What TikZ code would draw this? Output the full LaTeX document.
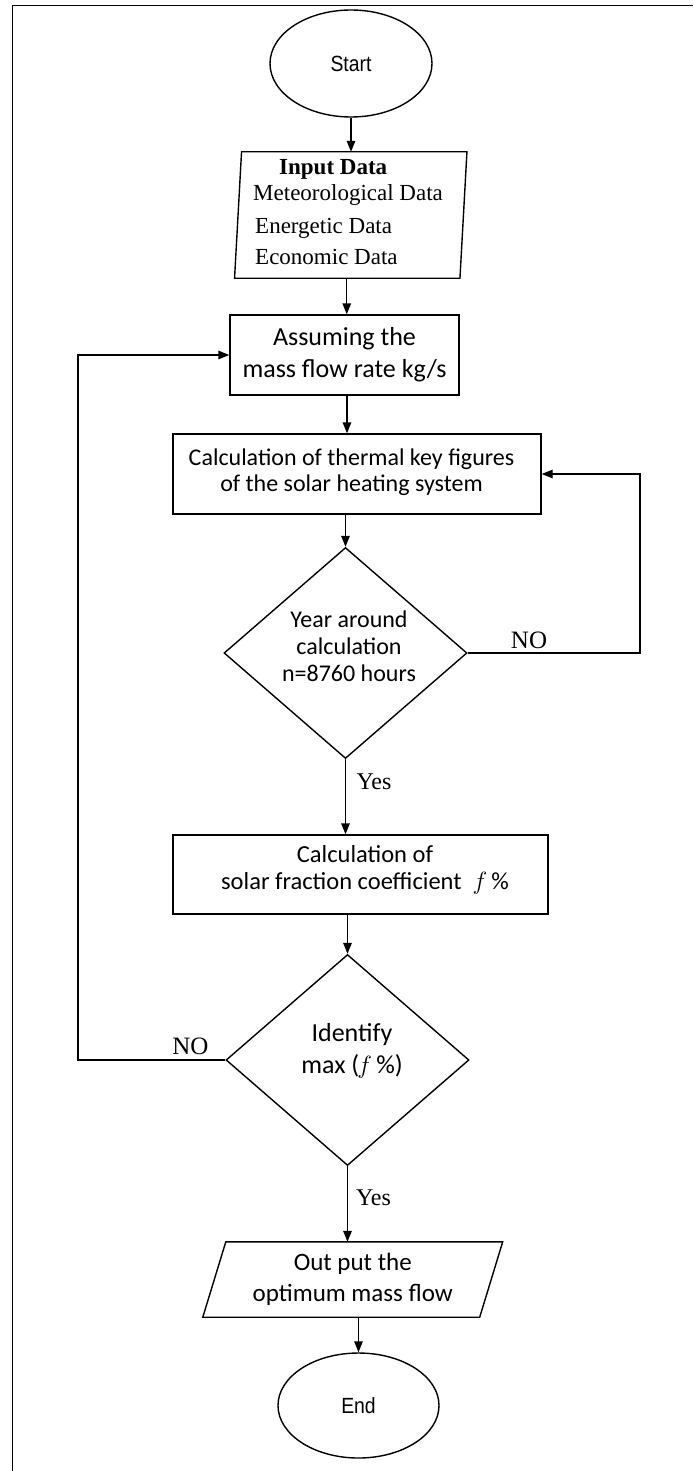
\documentclass[tikz,border=0pt]{standalone}
\usepackage{fontspec}
\setmainfont{Liberation Serif}
\newfontfamily\calfont{Carlito}
\newfontfamily\arialfont[FakeStretch=0.88]{Liberation Sans}
\usetikzlibrary{shapes.geometric,arrows.meta,calc}
\begin{document}
\begin{tikzpicture}[x=1pt,y=-1pt,
  ln/.style={line width=1.4pt},
  arr/.style={line width=1.4pt,-{Triangle[length=11pt,width=8.5pt]}},
  termnode/.style={ellipse,draw,ln,inner sep=0,font=\arialfont\fontsize{22}{26}\selectfont},
  procbox/.style={draw,ln,inner sep=0,align=center},
  decnode/.style={diamond,draw,ln,inner sep=0,minimum width=243pt,minimum height=211pt},
  ghost/.style={inner sep=0},
  serlab/.style={inner sep=0,font=\fontsize{24}{28}\selectfont},
  inline/.style={anchor=base west,inner sep=0,font=\fontsize{23}{27}\selectfont}
]
\useasboundingbox (0,0) rectangle (693,1471);
% frame
\draw[line width=1.4pt] (693,5.7) -- (12.7,5.7) -- (12.7,1471);

% start
\node[termnode,minimum width=162pt,minimum height=107pt] (start) at (351,63.5) {Start};

% input data
\node[ghost,minimum width=225pt,minimum height=126pt] (inp) at (350.75,215) {};
\draw[ln] ($(inp.north west)+(3.5,0)$) -- ($(inp.north east)+(3.5,0)$)
  -- ($(inp.south east)+(-3.5,0)$) -- ($(inp.south west)+(-3.5,0)$) -- cycle;
\node[inline,font=\bfseries\fontsize{23}{27}\selectfont] (inpt) at (279,175) {Input Data};
\node[inline] (met) at (253,201) {Meteorological Data};
\node[inline] (ene) at (255,234) {Energetic Data};
\node[inline] (eco) at (255,264) {Economic Data};

% assuming
\node[procbox,minimum width=229pt,minimum height=80pt,font=\calfont\fontsize{26}{32}\selectfont] (asm) at (344.5,355) {Assuming the\\mass flow rate kg/s};

% calc thermal
\node[procbox,minimum width=368pt,minimum height=80pt] (calc) at (357,474) {};
\node[ghost,align=center,font=\calfont\fontsize{24}{26}\selectfont] (calct) at (351.5,472) {Calculation of thermal key figures\\of the solar heating system};

% decision 1
\node[decnode] (d1) at (345.5,653) {};
\node[ghost,align=center,font=\calfont\fontsize{24}{27}\selectfont] (d1t) at (349,646.5) {Year around\\calculation\\n=8760 hours};

% solar fraction
\node[procbox,minimum width=375pt,minimum height=79pt] (frac) at (360.5,874.5) {};
\node[ghost,align=center,font=\calfont\fontsize{24.5}{27}\selectfont] (fract) at (365,869.5) {Calculation of\\solar fraction coefficient\hspace{0.45em}$f$\,\%};

% decision 2
\node[decnode] (d2) at (347.5,1060) {};
\node[ghost,align=center,font=\calfont\fontsize{26}{32}\selectfont] (d2t) at (352,1051) {Identify\\max (\kern-2pt$f$\,\%)};

% output
\node[ghost,minimum width=276.5pt,minimum height=75pt,align=center,font=\calfont\fontsize{25}{31}\selectfont] (out) at (352.75,1279.5) {Out put the\\optimum mass flow};
\draw[ln] ($(out.north west)+(11.5,0)$) -- ($(out.north east)+(11.5,0)$)
  -- ($(out.south east)+(-11.5,0)$) -- ($(out.south west)+(-11.5,0)$) -- cycle;

% end
\node[termnode,minimum width=161pt,minimum height=105pt] (end) at (358.5,1405.5) {End};

% labels
\node[serlab,font=\fontsize{25}{29}\selectfont] (no1) at (529,640) {NO};
\node[serlab] (yes1) at (374,782) {Yes};
\node[serlab,font=\fontsize{25}{29}\selectfont] (no2) at (190.5,1046) {NO};
\node[serlab] (yes2) at (373.5,1198) {Yes};

% connectors
\coordinate (rl) at (640,0);
\coordinate (ll) at (78,0);
\draw[arr] (start.south) -- (start.south |- inp.north);
\draw[arr] ([xshift=-4pt]inp.south) -- ([xshift=-4pt]inp.south |- asm.north);
\draw[arr] ([xshift=2.5pt]asm.south) -- ([xshift=2.5pt]asm.south |- calc.north);
\draw[arr] (d1.north |- calc.south) -- (d1.north);
\draw[arr] (d1.south) -- (d1.south |- frac.north);
\draw[arr] (d2.north |- frac.south) -- (d2.north);
\draw[arr] (d2.south) -- (d2.south |- out.north);
\draw[arr] (end.north |- out.south) -- (end.north);
\draw[arr] (d1.east) -| (rl |- calc.east) -- (calc.east);
\draw[arr] (d2.west) -| (ll |- asm.west) -- (asm.west);
\end{tikzpicture}
\end{document}
